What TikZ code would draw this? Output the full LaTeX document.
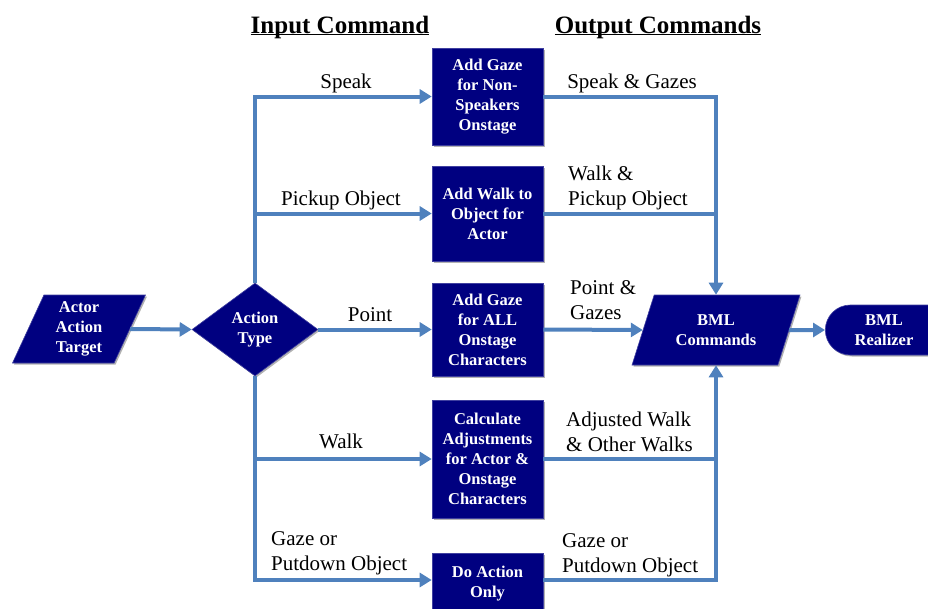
\documentclass[tikz,border=0pt]{standalone}
\usepackage{fontspec}
\setmainfont{Liberation Serif}
\usetikzlibrary{shapes.geometric,shapes.misc,arrows.meta,shadows}
\definecolor{navy}{RGB}{0,0,128}
\definecolor{flow}{RGB}{79,129,189}
\begin{document}
\begin{tikzpicture}[x=1pt,y=-1pt,
  box/.style={fill=navy, draw=navy!75!white, line width=0.6pt, text=white,
    font=\rmfamily\fontsize{16.5}{20}\selectfont\bfseries, align=center, inner sep=0pt,
    drop shadow={shadow xshift=1.5pt, shadow yshift=-1.5pt, opacity=0.3, fill=black}},
  proc/.style={box, rectangle, minimum width=111pt},
  para/.style={box, trapezium, trapezium stretches=true},
  flowline/.style={draw=flow, line width=4pt},
  arr/.style={flowline, -{Triangle[length=12pt,width=14pt]}},
  lbl/.style={font=\rmfamily\fontsize{21}{25}\selectfont, align=left, inner sep=0pt},
  head/.style={font=\rmfamily\fontsize{25}{30}\selectfont\bfseries, inner sep=0pt, anchor=base},
]
\useasboundingbox (0,0) rectangle (928,608);

% headings
\node[head] (hin) at (340,33) {\underline{\smash{Input Command}}};
\node[head] (hout) at (658,33) {\underline{\smash{Output Commands}}};

% shapes
\node[para, trapezium left angle=69, trapezium right angle=111,
      minimum width=134pt, minimum height=68pt] (inp) at (79,329) {Actor\\Action\\Target};
\node[box, diamond, aspect=1.35, minimum width=126pt, minimum height=93pt] (dia) at (255,329.5) {Action\\Type};

\node[proc, minimum height=97pt] (b1) at (487.5,96.5) {Add Gaze\\for Non-\\Speakers\\Onstage};
\node[proc, minimum height=95pt] (b2) at (487.5,213.5) {Add Walk to\\Object for\\Actor};
\node[proc, minimum height=93pt] (b3) at (487.5,329.5) {Add Gaze\\for ALL\\Onstage\\Characters};
\node[proc, minimum height=118pt] (b4) at (487.5,459) {Calculate\\Adjustments\\for Actor \&\\Onstage\\Characters};
\node[proc, minimum height=62pt] (b5) at (487.5,584) {Do Action\\Only};

\node[para, trapezium left angle=65, trapezium right angle=115,
      minimum width=168pt, minimum height=70pt] (bml) at (716,330) {BML\\Commands};
\node[box, rounded rectangle, rounded rectangle right arc=none,
      minimum width=112pt, minimum height=50pt] (real) at (884,330) {BML\\Realizer};

% left connectors
\draw[arr] (inp.east) -- (dia.west);
\draw[arr] (dia.north) |- (b1.west);
\draw[arr] (dia.north |- b2.west) -- (b2.west);
\draw[arr] (dia.east) -- (b3.west);
\draw[arr] (dia.south |- b4.west) -- (b4.west);
\draw[arr] (dia.south) |- ([yshift=4pt]b5.west);

% right connectors
\draw[arr] (b1.east) -| (bml.north);
\draw[flowline] (b2.east) -- (b2.east -| bml.north);
\draw[arr] (b3.east) -- (bml.west);
\draw[flowline] (b4.east) -- (b4.east -| bml.south);
\draw[arr] ([yshift=4pt]b5.east) -| (bml.south);
\draw[arr] (bml.east) -- (real.west);

% input labels
\node[lbl, anchor=base] (l1) at (346,88) {Speak};
\node[lbl, anchor=base] (l2) at (341,205) {Pickup Object};
\node[lbl, anchor=base] (l3) at (370,321) {Point};
\node[lbl, anchor=base] (l4) at (341,448) {Walk};
\node[lbl, anchor=north west] (l5) at (271,531) {Gaze or\\Putdown Object};

% output labels
\node[lbl, anchor=base] (o1) at (632,88) {Speak \& Gazes};
\node[lbl, anchor=north west] (o2) at (568,166) {Walk \&\\Pickup Object};
\node[lbl, anchor=north west] (o3) at (570,280) {Point \&\\Gazes};
\node[lbl, anchor=north west] (o4) at (566,412) {Adjusted Walk\\\& Other Walks};
\node[lbl, anchor=north west] (o5) at (562,533) {Gaze or\\Putdown Object};
\end{tikzpicture}
\end{document}
